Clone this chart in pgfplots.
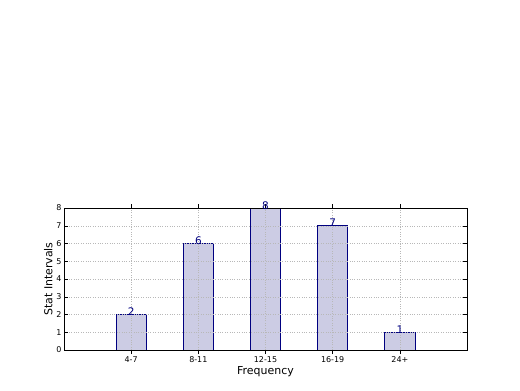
\documentclass[border=0pt]{standalone}
\usepackage{pgfplots}
\pgfplotsset{compat=1.18}
\usepackage{fontspec}
\setmainfont{DejaVu Sans}
\definecolor{barfill}{RGB}{204,204,228}
\definecolor{baredge}{RGB}{0,0,128}
\begin{document}
\begin{tikzpicture}[x=1bp,y=1bp]
\path (0,0) rectangle (520,390);
\begin{axis}[
  at={(64bp,40bp)}, anchor=south west,
  scale only axis, width=403bp, height=142bp,
  xmin=-1, xmax=5, ymin=0, ymax=8,
  ytick={0,...,8},
  xtick=data,
  xticklabels={4-7,8-11,12-15,16-19,24+},
  tick align=inside,
  major tick length=4bp,
  tick style={black, line width=0.5pt},
  axis line style={line width=0.8pt},
  axis on top,
  grid=major,
  grid style={black!28, dash pattern=on 0.8bp off 1.6bp, line width=0.5pt},
  ticklabel style={font=\fontsize{8}{9}\selectfont},
  /pgf/number format/assume math mode=true,
  xlabel={Frequency}, ylabel={Stat Intervals},
  label style={font=\fontsize{11}{12}\selectfont},
  xlabel style={yshift=3bp},
  ylabel style={yshift=-3bp},
  yticklabel style={xshift=1bp},
  xticklabel style={yshift=1bp},
  ybar, bar width=0.45,
  nodes near coords,
  every node near coord/.style={anchor=south, inner sep=0pt, yshift=-1.5bp, text=baredge, font=\fontsize{10.5}{11}\selectfont},
  clip=false,
]
\addplot[fill=barfill, draw=baredge, line width=0.6pt] coordinates {(0,2) (1,6) (2,8) (3,7) (4,1)};
\end{axis}
\end{tikzpicture}
\end{document}
